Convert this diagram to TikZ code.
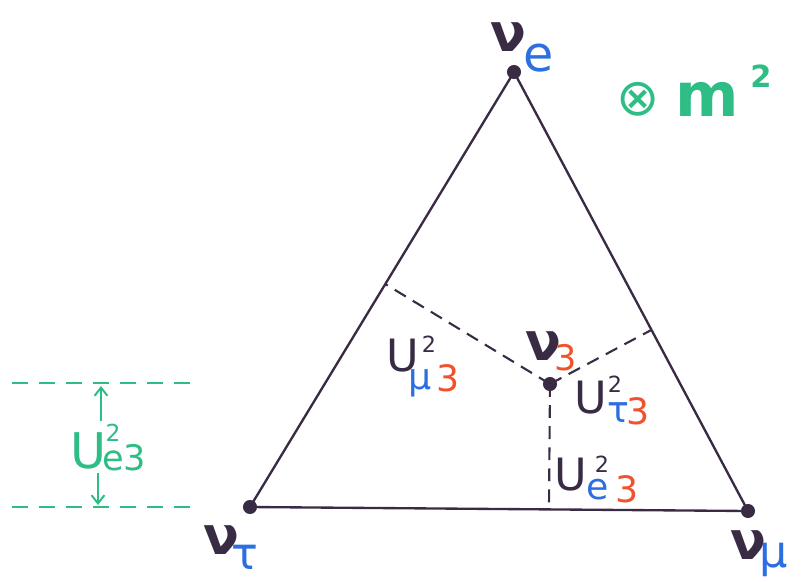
\documentclass[tikz,border=0pt]{standalone}
\usepackage{fontspec}
\setmainfont{DejaVu Sans}
\usetikzlibrary{calc,arrows.meta}
\definecolor{ink}{HTML}{3A2B44}
\definecolor{nblue}{HTML}{2C6FE0}
\definecolor{nred}{HTML}{F0522E}
\definecolor{ngreen}{HTML}{2DBD85}
\newcommand\fs[1]{\fontsize{#1}{#1}\selectfont}
\begin{document}
\begin{tikzpicture}[x=0.03cm,y=-0.03cm,
  edge/.style={draw=ink,line width=2pt},
  dashline/.style={draw=ink,line width=1.8pt,dash pattern=on 11pt off 7pt},
  gdash/.style={draw=ngreen,line width=1.6pt,dash pattern=on 14pt off 9pt},
  garrow/.style={draw=ngreen,line width=1.7pt,-{Straight Barb[length=7pt,width=11pt,line width=1.7pt]}},
  dot/.style={circle,fill=ink,inner sep=0pt,minimum size=12pt},
  lab/.style={inner sep=0pt,anchor=center},
  nu/.style={lab,text=ink,font=\fs{45}\bfseries},
  U/.style={lab,text=ink,font=\fs{38}},
  sup/.style={lab,text=ink,font=\fs{19}},
  sub/.style={lab,font=\fs{31}}]
\useasboundingbox (0,0) rectangle (804,581);
% vertices
\node[dot] (E) at (514,72) {};
\node[dot] (T) at (250,507) {};
\node[dot] (M) at (748,511) {};
\node[dot] (N3) at (550,384) {};
\draw[edge] (E.center) -- (M.center) -- (T.center) -- cycle;
% feet of perpendiculars
\coordinate (FL) at ($(T.center)!(N3.center)!(E.center)$);
\coordinate (FR) at ($(E.center)!(N3.center)!(M.center)$);
\coordinate (FB) at ($(T.center)!(N3.center)!(M.center)$);
\draw[dashline] (N3.center) -- (FL);
\draw[dashline] (N3.center) -- (FR);
\draw[dashline] (N3.center) -- (FB);
% vertex labels
\node[nu] (nue) at (508,37) {ν};
\node[sub,text=nblue,font=\fs{42}] (nuesub) at (539,58) {e};
\node[nu] (nut) at (221,540) {ν};
\node[sub,text=nblue,font=\fs{38}] (nutsub) at (245,557) {τ};
\node[nu] (num) at (748,545) {ν};
\node[sub,text=nblue,font=\fs{38}] (numsub) at (774,560) {μ};
\node[nu] (nu3) at (543,346) {ν};
\node[sub,text=nred,font=\fs{30}] (nu3sub) at (566,358) {3};
% m^2
\node[lab,text=ngreen,font=\fs{44}] (otimes) at (638,99) {⊗};
\node[lab,text=ngreen,font=\fs{52}\bfseries] (m) at (707,99) {m};
\node[lab,text=ngreen,font=\fs{26}\bfseries] (msup) at (761,76) {2};
% U mu3
\node[U] (Um) at (403,356) {U};
\node[sup] (Umsup) at (429,344) {2};
\node[sub,text=nblue] (Umsub1) at (420,383) {μ};
\node[sub,text=nred] (Umsub2) at (448,378) {3};
% U tau3
\node[U] (Ut) at (591,398) {U};
\node[sup] (Utsup) at (615,384) {2};
\node[sub,text=nblue] (Utsub1) at (618,413) {τ};
\node[sub,text=nred] (Utsub2) at (638,411) {3};
% U e3
\node[U] (Ue) at (571,475) {U};
\node[sup] (Uesup) at (602,464) {2};
\node[sub,text=nblue] (Uesub1) at (598,490) {e};
\node[sub,text=nred] (Uesub2) at (627,489) {3};
% left scale
\coordinate (L1a) at (12,383);
\coordinate (L1b) at (197,383);
\coordinate (L2a) at (12,507);
\coordinate (L2b) at (197,507);
\draw[gdash] (L1a) -- (L1b);
\draw[gdash] (L2a) -- (L2b);
\node[lab,text=ngreen,font=\fs{42}] (Ug) at (89,451) {U};
\node[lab,text=ngreen,font=\fs{20}] (Ugsup) at (113,433) {2};
\node[lab,text=ngreen,font=\fs{30}] (Ugsub) at (124,458) {e3};
\coordinate (A1) at (101,421);
\coordinate (A1e) at (101,386);
\coordinate (A2) at (98,473);
\coordinate (A2e) at (98,505);
\draw[garrow] (A1) -- (A1e);
\draw[garrow] (A2) -- (A2e);
\end{tikzpicture}
\end{document}
